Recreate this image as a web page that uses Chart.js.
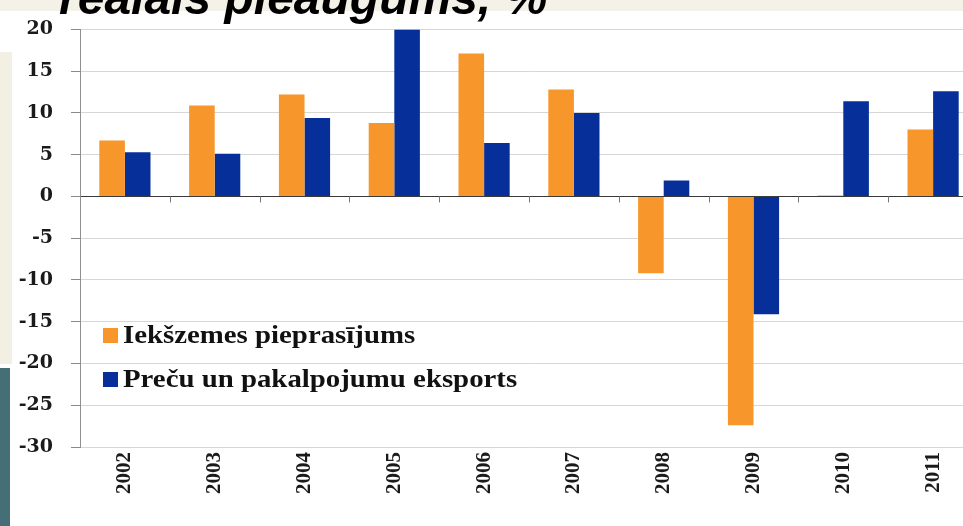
<!DOCTYPE html>
<html>
<head>
<meta charset="utf-8">
<script src="https://cdn.jsdelivr.net/npm/chart.js@4"></script>
<style>
  html, body { margin: 0; padding: 0; }
  body { width: 963px; height: 526px; overflow: hidden; position: relative; background: #fff; font-family: "Liberation Serif", serif; }
  .strip-top { position: absolute; left: 0; top: 0; width: 963px; height: 11px; background: #f4f2e8; }
  .strip-beige { position: absolute; left: 0; top: 52px; width: 12px; height: 312px; background: #f2efe3; }
  .strip-teal { position: absolute; left: 0; top: 368px; width: 10px; height: 158px; background: #466e77; }
  #wrap { position: absolute; left: 0; top: 0; width: 980px; height: 526px; }
  #title { position: absolute; left: 59px; top: -26px; font: italic bold 48px/48px "Liberation Sans", Arial, sans-serif; color: #000; white-space: nowrap; }
  .leg { position: absolute; left: 103px; height: 15px; white-space: nowrap; }
  .leg .box { position: absolute; left: 0; top: 0; width: 15px; height: 15px; }
  .leg .txt { position: absolute; left: 20px; bottom: -4px; font: bold 25.5px/25.5px "Liberation Serif", serif; color: #111; transform: scaleX(1.13); transform-origin: left bottom; }
</style>
</head>
<body>
<div class="strip-top"></div>
<div class="strip-beige"></div>
<div class="strip-teal"></div>
<div id="wrap"><canvas id="chart" width="980" height="526"></canvas></div>
<div id="title">reālais pieaugums, %</div>
<div id="legend"></div>
<script>
// Data
const years = ['2002', '2003', '2004', '2005', '2006', '2007', '2008', '2009', '2010', '2011'];
const domesticDemand = [6.7, 10.9, 12.2, 8.8, 17.1, 12.8, -9.2, -27.4, 0.1, 8.0];
const exportsGoods = [5.3, 5.1, 9.4, 20.0, 6.4, 10.0, 1.9, -14.1, 11.4, 12.6];
const seriesNames = ['Iekšzemes pieprasījums', 'Preču un pakalpojumu eksports'];
const seriesColors = ['#f6962b', '#062f99'];

// tick marks on the zero line between categories
const zeroTicks = {
  id: 'zeroTicks',
  afterDatasetsDraw(chart) {
    const x = chart.scales.x, y = chart.scales.y;
    const y0 = y.getPixelForValue(0);
    const ctx = chart.ctx;
    ctx.save();
    ctx.strokeStyle = '#777';
    ctx.lineWidth = 1;
    for (let i = 0; i < years.length - 1; i++) {
      const px = Math.round((x.getPixelForValue(i) + x.getPixelForValue(i + 1)) / 2) + 0.5;
      ctx.beginPath();
      ctx.moveTo(px, y0);
      ctx.lineTo(px, y0 + 6);
      ctx.stroke();
    }
    ctx.restore();
  }
};

const chart = new Chart(document.getElementById('chart'), {
  type: 'bar',
  data: {
    labels: years,
    datasets: [
      { label: seriesNames[0], data: domesticDemand, backgroundColor: seriesColors[0] },
      { label: seriesNames[1], data: exportsGoods, backgroundColor: seriesColors[1] }
    ]
  },
  options: {
    responsive: false,
    animation: false,
    devicePixelRatio: 1,
    categoryPercentage: 0.57,
    barPercentage: 1.0,
    layout: { padding: { top: 27, right: 2, left: 0, bottom: 0 } },
    plugins: {
      legend: { display: false },
      tooltip: { enabled: false },
      title: { display: false }
    },
    scales: {
      x: {
        grid: { display: false, drawTicks: false },
        border: { display: false },
        ticks: {
          minRotation: 90, maxRotation: 90, padding: 5, autoSkip: false,
          color: '#1a1a1a',
          font: { family: '"Liberation Serif", serif', weight: 'bold', size: 21 }
        },
        afterFit(scale) { scale.height = 79; }
      },
      y: {
        min: -30, max: 20,
        ticks: {
          stepSize: 5, padding: 18, color: '#1a1a1a',
          font: { family: '"DejaVu Serif", serif', weight: 'bold', size: 19 }
        },
        grid: {
          color: ctx => (ctx.tick && ctx.tick.value === 0) ? '#3a3a3a' : '#d6d6d6',
          tickColor: '#8a8a8a',
          tickLength: 9,
          lineWidth: 1
        },
        border: { display: true, color: '#8f8f8f', width: 1 },
        afterFit(scale) { scale.width = 80; }
      }
    }
  },
  plugins: [zeroTicks]
});

// HTML legend inside the plot
const legend = document.getElementById('legend');
seriesNames.forEach((name, i) => {
  const row = document.createElement('div');
  row.className = 'leg';
  row.style.top = (328 + i * 44) + 'px';
  row.innerHTML = `<span class="box" style="background:${seriesColors[i]}"></span><span class="txt">${name}</span>`;
  legend.appendChild(row);
});
</script>
</body>
</html>
